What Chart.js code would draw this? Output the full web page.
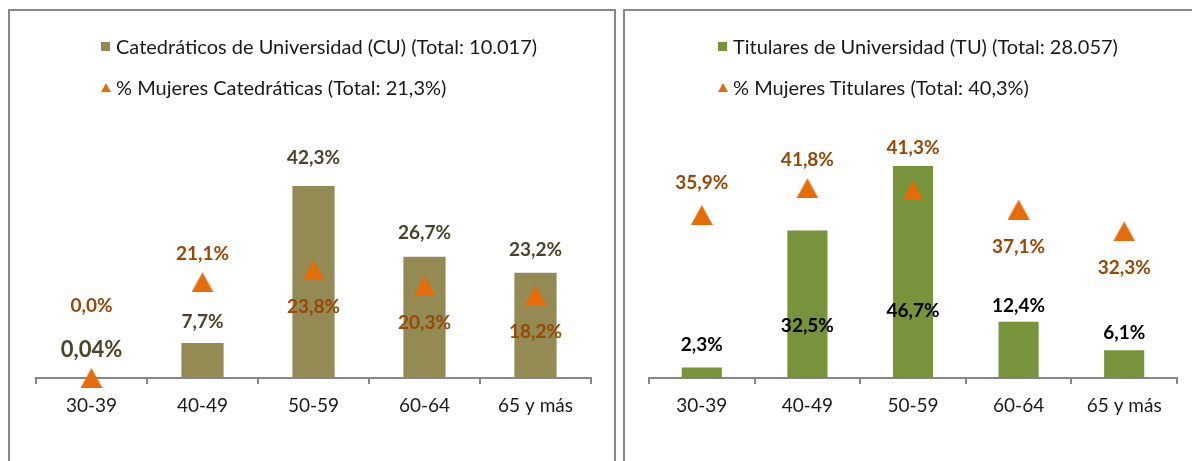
<!DOCTYPE html>
<html lang="es">
<head>
<meta charset="utf-8">
<script src="https://cdn.jsdelivr.net/npm/chart.js@4.4.1/dist/chart.umd.min.js"></script>
<style>
  html, body { margin: 0; padding: 0; background: #fff; }
  body { width: 1192px; height: 461px; overflow: hidden; position: relative; font-family: Lato, sans-serif; }
  .panel { position: absolute; top: 9px; height: 460px; border: 2px solid #878787; border-bottom: none; }
  #panel-cu { left: 8px; width: 604px; }
  #panel-tu { left: 623px; width: 570px; }
  .panel canvas { position: absolute; left: 0; top: 0; }
  .legend { position: absolute; top: 24px; font-size: 20px; color: #1a1a1a; }
  .legend .row { display: flex; align-items: center; height: 22px; margin-bottom: 19px; white-space: nowrap; }
  .legend .sq { width: 9px; height: 9px; margin-right: 6px; }
  .legend .tri { width: 0; height: 0; border-left: 5px solid transparent; border-right: 5px solid transparent; border-bottom: 9px solid; margin-right: 5px; }
  #legend-cu { left: 91px; }
  #legend-tu { left: 93px; }
</style>
</head>
<body>
<div class="panel" id="panel-cu">
  <canvas id="canvas-cu" width="604" height="450"></canvas>
  <div class="legend" id="legend-cu"></div>
</div>
<div class="panel" id="panel-tu">
  <canvas id="canvas-tu" width="567" height="450"></canvas>
  <div class="legend" id="legend-tu"></div>
</div>
<script>
const ageGroups = ['30-39', '40-49', '50-59', '60-64', '65 y más'];

const cuLabel = 'Catedráticos de Universidad (CU) (Total: 10.017)';
const cuWomenLabel = '% Mujeres Catedráticas (Total: 21,3%)';
const cuShare = [0.04, 7.7, 42.3, 26.7, 23.2];
const cuWomen = [0.0, 21.1, 23.8, 20.3, 18.2];

const tuLabel = 'Titulares de Universidad (TU) (Total: 28.057)';
const tuWomenLabel = '% Mujeres Titulares (Total: 40,3%)';
const tuShare = [2.3, 32.5, 46.7, 12.4, 6.1];
const tuWomen = [35.9, 41.8, 41.3, 37.1, 32.3];

const axisGray = '#878787';
const orange = '#E46C0A';
const orangeText = '#984807';

// triangle marker like the excel one (box centred on the value)
const tri = document.createElement('canvas');
tri.width = 22;
tri.height = 20;
const tctx = tri.getContext('2d');
tctx.fillStyle = orange;
tctx.beginPath();
tctx.moveTo(0, 20);
tctx.lineTo(11, 0);
tctx.lineTo(22, 20);
tctx.closePath();
tctx.fill();

function fmtPct(v) {
  const dec = (v > 0 && v < 0.1) ? 2 : 1;
  return v.toFixed(dec).replace('.', ',') + '%';
}

const valueLabels = {
  id: 'valueLabels',
  afterDatasetsDraw(chart, args, opts) {
    const ctx = chart.ctx;
    chart.data.datasets.forEach((ds, i) => {
      const st = opts.styles[i];
      const meta = chart.getDatasetMeta(i);
      ctx.save();
      ctx.fillStyle = st.color;
      ctx.textAlign = 'center';
      ctx.textBaseline = 'middle';
      meta.data.forEach((el, j) => {
        const size = (st.size && st.size[j]) || 19;
        ctx.font = 'bold ' + size + 'px Lato';
        ctx.fillText(fmtPct(ds.data[j]), el.x, el.y + st.dy[j]);
      });
      ctx.restore();
    });
  }
};

function buildLegend(chart, el) {
  el.innerHTML = '';
  chart.data.datasets.forEach(ds => {
    const row = document.createElement('div');
    row.className = 'row';
    const mark = document.createElement('span');
    if (ds.type === 'bar') {
      mark.className = 'sq';
      mark.style.background = ds.backgroundColor;
    } else {
      mark.className = 'tri';
      mark.style.borderBottomColor = orange;
    }
    const txt = document.createElement('span');
    txt.textContent = ds.label;
    row.appendChild(mark);
    row.appendChild(txt);
    el.appendChild(row);
  });
}

function makeChart(canvasId, legendId, barLabel, barData, barColor, barTextColor, lineLabel, lineData, pad, barStyle, lineDy) {
  const chart = new Chart(document.getElementById(canvasId), {
    data: {
      labels: ageGroups,
      datasets: [{
        type: 'bar',
        label: barLabel,
        data: barData,
        backgroundColor: barColor,
        categoryPercentage: 1,
        barPercentage: 0.38,
        order: 2
      }, {
        type: 'line',
        label: lineLabel,
        data: lineData,
        showLine: false,
        pointStyle: tri,
        backgroundColor: orange,
        clip: false,
        order: 1
      }]
    },
    options: {
      responsive: false,
      animation: false,
      layout: { padding: pad },
      plugins: {
        legend: { display: false },
        tooltip: { enabled: false },
        valueLabels: {
          styles: [
            Object.assign({ color: barTextColor }, barStyle),
            { color: orangeText, dy: lineDy }
          ]
        }
      },
      scales: {
        x: {
          offset: true,
          grid: { offset: true, drawOnChartArea: false, tickLength: 6, color: axisGray, lineWidth: 2 },
          border: { color: axisGray, width: 2 },
          ticks: { color: '#1a1a1a', font: { family: 'Lato', size: 19 }, padding: 10 },
          afterFit: s => { s.height = 50; }
        },
        y: { display: false, min: 0, max: 50 }
      }
    },
    plugins: [valueLabels]
  });
  buildLegend(chart, document.getElementById(legendId));
  return chart;
}

makeChart('canvas-cu', 'legend-cu', cuLabel, cuShare, '#948A54', '#4A452A', cuWomenLabel, cuWomen,
  { left: 26, right: 23, top: 140, bottom: 33 },
  { dy: [-28, -21, -28, -24, -23], size: [22] }, [-72, -28, 37, 37, 37]);

makeChart('canvas-tu', 'legend-tu', tuLabel, tuShare, '#77933C', '#000000', tuWomenLabel, tuWomen,
  { left: 24, right: 15, top: 140, bottom: 33 },
  { dy: [-23, 95, 145, -16, -17] }, [-32, -28, -43, 37, 37]);
</script>
</body>
</html>
